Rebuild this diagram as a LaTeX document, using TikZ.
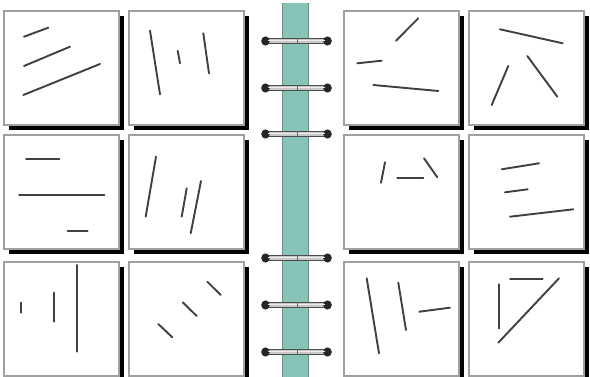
\documentclass[tikz,border=0pt]{standalone}
\usetikzlibrary{calc}
\definecolor{spinecol}{HTML}{88C3B7}
\definecolor{spineedge}{HTML}{6E8F88}
\definecolor{stroke}{HTML}{404040}
\definecolor{boxedge}{HTML}{A0A0A0}
\definecolor{ringfill}{HTML}{C8C8C8}
\tikzset{
  panel/.style={draw=boxedge, line width=1.3pt, fill=white},
  panelshadow/.style={fill=black},
  seg/.style={draw=stroke, line width=1.9pt, line cap=round},
  ringbar/.style={draw=black!70, line width=0.7pt, fill=ringfill},
  ringend/.style={fill=black!85},
}
\newcommand{\panelat}[2]{%
  \fill[panelshadow] (#1+5,#2+5) rectangle (#1+120,#2+119);
  \draw[panel] (#1,#2) rectangle (#1+115,#2+114);
}
\newcommand{\ringat}[1]{%
  \draw[ringbar] (264,#1-2.5) rectangle (329,#1+2.5);
  \fill[ringend] (265.5,#1) ellipse (4.3 and 4.6);
  \fill[ringend] (327.5,#1) ellipse (4.3 and 4.6);
  \draw[white!85!gray, line width=0.9pt] (268,#1-0.7) -- (325,#1-0.7);
  \draw[black!60, line width=0.5pt] (297,#1-2.5) -- (297,#1+2.5);
}
\begin{document}
\begin{tikzpicture}[x=1pt,y=-1pt]
\useasboundingbox (0,0) rectangle (590,377);
\fill[white] (0,0) rectangle (590,377);
% spine
\fill[spinecol] (282,3) rectangle (308,377);
\draw[spineedge, line width=1pt] (282,3) -- (282,377);
\draw[spineedge, line width=1pt] (308,3) -- (308,377);
% panels
\panelat{4}{11}
\panelat{129}{11}
\panelat{344}{11}
\panelat{469}{11}
\panelat{4}{135}
\panelat{129}{135}
\panelat{344}{135}
\panelat{469}{135}
\panelat{4}{262}
\panelat{129}{262}
\panelat{344}{262}
\panelat{469}{262}
% rings
\ringat{41}
\ringat{88}
\ringat{134}
\ringat{258}
\ringat{305}
\ringat{352}
% box 1
\draw[seg] (24,36.7) -- (48.3,27.7);
\draw[seg] (24,66) -- (70,46.7);
\draw[seg] (23.3,95) -- (100,64);
% box 2
\draw[seg] (150,30.7) -- (160,94.3);
\draw[seg] (177.7,50.7) -- (180,63.3);
\draw[seg] (203.3,33.3) -- (209,73.3);
% box 3
\draw[seg] (396,40.7) -- (418.3,18.3);
\draw[seg] (357.3,63.3) -- (381.7,60.7);
\draw[seg] (373.3,85) -- (438.3,91);
% box 4
\draw[seg] (500,29.3) -- (562.7,43.3);
\draw[seg] (491.7,105) -- (508.3,66);
\draw[seg] (527.3,56) -- (557.3,96.7);
% box 5
\draw[seg] (26,159.3) -- (59.3,159.3);
\draw[seg] (19,195.3) -- (104.3,195.3);
\draw[seg] (67.7,231) -- (87.7,231);
% box 6
\draw[seg] (156,156.7) -- (145.7,216.7);
\draw[seg] (186.7,188.3) -- (181.7,216.7);
\draw[seg] (201,181) -- (190.7,233.3);
% box 7
\draw[seg] (385,162.3) -- (381,182.7);
\draw[seg] (397.3,178.3) -- (423.3,178.3);
\draw[seg] (424,158.3) -- (437.3,177.3);
% box 8
\draw[seg] (501.7,169.3) -- (539,163.3);
\draw[seg] (505,192.3) -- (527.7,189.3);
\draw[seg] (510,216.7) -- (573.3,209.3);
% box 9
\draw[seg] (20.7,302.7) -- (20.7,312.7);
\draw[seg] (54,292.7) -- (54,321.7);
\draw[seg] (76.7,265) -- (76.7,351.7);
% box 10
\draw[seg] (158.3,324) -- (172.3,337.3);
\draw[seg] (182.7,302.3) -- (196.7,316);
\draw[seg] (207.3,281.7) -- (220.7,295);
% box 11
\draw[seg] (366.7,278.3) -- (379,353.3);
\draw[seg] (398.3,282.7) -- (406,330);
\draw[seg] (419.3,311.7) -- (450,307.7);
% box 12
\draw[seg] (499.3,284.3) -- (499.3,328.3);
\draw[seg] (510,279) -- (542.7,279);
\draw[seg] (498.3,342.7) -- (559,278.3);
\end{tikzpicture}
\end{document}
